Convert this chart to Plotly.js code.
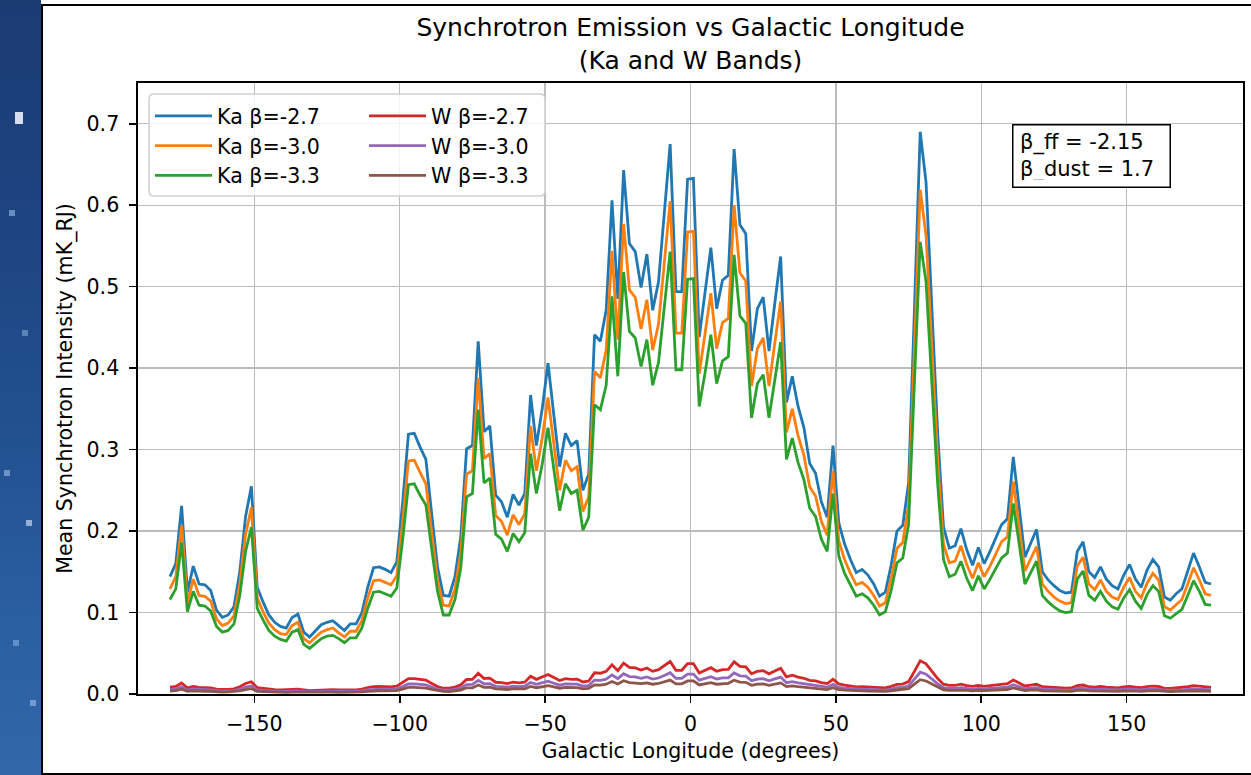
<!DOCTYPE html>
<html>
<head>
<meta charset="utf-8">
<script src="https://cdn.plot.ly/plotly-3.0.1.min.js"></script>
<style>
html,body{margin:0;padding:0;background:#fff;width:1251px;height:775px;overflow:hidden;}
#strip{position:absolute;left:0;top:0;width:41px;height:775px;
  background:linear-gradient(180deg,#1b3b73 0%,#1e4482 30%,#22508f 55%,#2a5fa2 80%,#3168ab 100%);}
.spot{position:absolute;width:6px;height:6px;background:rgba(170,200,240,0.55);}
#frame{position:absolute;left:41px;top:4px;width:1220px;height:767px;border:2px solid #000;background:#fff;}
#chart{position:absolute;left:0;top:0;width:1251px;height:775px;}
</style>
</head>
<body>
<div id="strip">
  <div class="spot" style="left:15px;top:112px;width:8px;height:12px;background:rgba(235,240,250,0.9)"></div>
  <div class="spot" style="left:9px;top:210px"></div>
  <div class="spot" style="left:22px;top:330px;background:rgba(150,185,230,0.5)"></div>
  <div class="spot" style="left:4px;top:470px"></div>
  <div class="spot" style="left:26px;top:520px;background:rgba(200,215,240,0.7)"></div>
  <div class="spot" style="left:13px;top:640px;background:rgba(150,190,235,0.5)"></div>
  <div class="spot" style="left:30px;top:700px"></div>
</div>
<div id="frame"></div>
<div id="chart"></div>
<script>
// Galactic longitude (deg), bin centres
const longitude = [-179,-177,-175,-173,-171,-169,-167,-165,-163,-161,
-159,-157,-155,-153,-151,-149,-147,-145,-143,-141,
-139,-137,-135,-133,-131,-129,-127,-125,-123,-121,
-119,-117,-115,-113,-111,-109,-107,-105,-103,-101,
-99,-97,-95,-93,-91,-89,-87,-85,-83,-81,
-79,-77,-75,-73,-71,-69,-67,-65,-63,-61,
-59,-57,-55,-53,-51,-49,-47,-45,-43,-41,
-39,-37,-35,-33,-31,-29,-27,-25,-23,-21,
-19,-17,-15,-13,-11,-9,-7,-5,-3,-1,
1,3,5,7,9,11,13,15,17,19,
21,23,25,27,29,31,33,35,37,39,
41,43,45,47,49,51,53,55,57,59,
61,63,65,67,69,71,73,75,77,79,
81,83,85,87,89,91,93,95,97,99,
101,103,105,107,109,111,113,115,117,119,
121,123,125,127,129,131,133,135,137,139,
141,143,145,147,149,151,153,155,157,159,
161,163,165,167,169,171,173,175,177,179];

const kaBeta27 = [0.144,0.160,0.231,0.125,0.157,0.135,0.134,0.127,0.103,0.094,
0.097,0.107,0.150,0.218,0.255,0.131,0.113,0.097,0.088,0.083,
0.081,0.094,0.098,0.076,0.070,0.077,0.085,0.088,0.090,0.084,
0.078,0.086,0.086,0.100,0.131,0.155,0.156,0.153,0.149,0.162,
0.235,0.319,0.320,0.303,0.288,0.221,0.156,0.121,0.120,0.144,
0.193,0.301,0.305,0.433,0.322,0.329,0.244,0.236,0.217,0.245,
0.232,0.246,0.367,0.305,0.350,0.406,0.342,0.279,0.320,0.305,
0.311,0.250,0.270,0.441,0.433,0.471,0.606,0.485,0.643,0.553,
0.543,0.499,0.540,0.471,0.506,0.590,0.675,0.494,0.494,0.632,
0.633,0.438,0.490,0.548,0.473,0.508,0.514,0.669,0.576,0.565,
0.421,0.473,0.487,0.421,0.480,0.537,0.358,0.390,0.353,0.327,
0.283,0.271,0.236,0.217,0.305,0.210,0.184,0.165,0.149,0.153,
0.146,0.135,0.120,0.125,0.158,0.200,0.207,0.259,0.471,0.690,
0.628,0.476,0.320,0.205,0.179,0.182,0.203,0.177,0.158,0.180,
0.160,0.175,0.191,0.208,0.215,0.291,0.230,0.168,0.185,0.202,
0.150,0.140,0.133,0.127,0.124,0.125,0.175,0.187,0.150,0.143,
0.156,0.141,0.133,0.129,0.146,0.159,0.141,0.131,0.152,0.165,
0.156,0.119,0.115,0.123,0.129,0.150,0.173,0.156,0.137,0.135];

const kaBeta30 = [0.129,0.144,0.207,0.112,0.141,0.121,0.120,0.114,0.092,0.084,
0.087,0.096,0.135,0.196,0.229,0.118,0.101,0.087,0.079,0.074,
0.073,0.084,0.088,0.068,0.063,0.069,0.076,0.079,0.081,0.075,
0.070,0.077,0.077,0.090,0.118,0.139,0.140,0.137,0.134,0.145,
0.211,0.286,0.287,0.272,0.258,0.198,0.140,0.109,0.108,0.129,
0.173,0.270,0.274,0.388,0.289,0.295,0.219,0.212,0.195,0.220,
0.208,0.221,0.329,0.274,0.314,0.364,0.307,0.250,0.287,0.274,
0.279,0.224,0.242,0.396,0.388,0.422,0.544,0.435,0.577,0.496,
0.487,0.448,0.484,0.422,0.454,0.529,0.605,0.443,0.443,0.567,
0.568,0.393,0.440,0.492,0.424,0.456,0.461,0.600,0.517,0.507,
0.378,0.424,0.437,0.378,0.431,0.482,0.321,0.350,0.317,0.293,
0.254,0.243,0.212,0.195,0.274,0.188,0.165,0.148,0.134,0.137,
0.131,0.121,0.108,0.112,0.142,0.179,0.186,0.232,0.422,0.619,
0.563,0.427,0.287,0.184,0.161,0.163,0.182,0.159,0.142,0.161,
0.144,0.157,0.171,0.187,0.193,0.261,0.206,0.151,0.166,0.181,
0.135,0.126,0.119,0.114,0.111,0.112,0.157,0.168,0.135,0.128,
0.140,0.126,0.119,0.116,0.131,0.143,0.126,0.118,0.136,0.148,
0.140,0.107,0.103,0.110,0.116,0.135,0.155,0.140,0.123,0.121];

const kaBeta33 = [0.116,0.129,0.186,0.101,0.126,0.109,0.108,0.102,0.083,0.076,
0.078,0.086,0.121,0.175,0.205,0.105,0.091,0.078,0.071,0.067,
0.065,0.076,0.079,0.061,0.056,0.062,0.068,0.071,0.072,0.068,
0.063,0.069,0.069,0.081,0.105,0.125,0.126,0.123,0.120,0.130,
0.189,0.257,0.258,0.244,0.232,0.178,0.126,0.097,0.097,0.116,
0.155,0.242,0.246,0.349,0.259,0.265,0.196,0.190,0.175,0.197,
0.187,0.198,0.295,0.246,0.282,0.327,0.275,0.225,0.258,0.246,
0.250,0.201,0.217,0.355,0.349,0.379,0.488,0.390,0.518,0.445,
0.437,0.402,0.435,0.379,0.407,0.475,0.543,0.398,0.398,0.509,
0.510,0.353,0.394,0.441,0.381,0.409,0.414,0.539,0.464,0.455,
0.339,0.381,0.392,0.339,0.386,0.432,0.288,0.314,0.284,0.263,
0.228,0.218,0.190,0.175,0.246,0.169,0.148,0.133,0.120,0.123,
0.118,0.109,0.097,0.101,0.127,0.161,0.167,0.208,0.379,0.555,
0.506,0.383,0.258,0.165,0.144,0.147,0.163,0.142,0.127,0.145,
0.129,0.141,0.154,0.167,0.173,0.234,0.185,0.135,0.149,0.163,
0.121,0.113,0.107,0.102,0.100,0.101,0.141,0.151,0.121,0.115,
0.126,0.114,0.107,0.104,0.118,0.128,0.114,0.105,0.122,0.133,
0.126,0.096,0.093,0.099,0.104,0.121,0.139,0.126,0.110,0.109];

const wBeta27 = [0.0085,0.0094,0.0136,0.0074,0.0093,0.0080,0.0079,0.0075,0.0061,0.0055,
0.0057,0.0063,0.0089,0.0129,0.0150,0.0077,0.0067,0.0057,0.0052,0.0049,
0.0048,0.0055,0.0058,0.0045,0.0041,0.0045,0.0050,0.0052,0.0053,0.0050,
0.0046,0.0051,0.0051,0.0059,0.0077,0.0091,0.0092,0.0090,0.0088,0.0096,
0.0139,0.0188,0.0189,0.0179,0.0170,0.0130,0.0092,0.0071,0.0071,0.0085,
0.0114,0.0178,0.0180,0.0255,0.0190,0.0194,0.0144,0.0139,0.0128,0.0145,
0.0137,0.0145,0.0217,0.0180,0.0207,0.0240,0.0202,0.0165,0.0189,0.0180,
0.0183,0.0148,0.0159,0.0260,0.0255,0.0278,0.0358,0.0286,0.0379,0.0326,
0.0320,0.0294,0.0319,0.0278,0.0299,0.0348,0.0398,0.0291,0.0291,0.0373,
0.0373,0.0258,0.0289,0.0323,0.0279,0.0300,0.0303,0.0395,0.0340,0.0333,
0.0248,0.0279,0.0287,0.0248,0.0283,0.0317,0.0211,0.0230,0.0208,0.0193,
0.0167,0.0160,0.0139,0.0128,0.0180,0.0124,0.0109,0.0097,0.0088,0.0090,
0.0086,0.0080,0.0071,0.0074,0.0093,0.0118,0.0122,0.0153,0.0278,0.0407,
0.0371,0.0281,0.0189,0.0121,0.0106,0.0107,0.0120,0.0104,0.0093,0.0106,
0.0094,0.0103,0.0113,0.0123,0.0127,0.0172,0.0136,0.0099,0.0109,0.0119,
0.0089,0.0083,0.0078,0.0075,0.0073,0.0074,0.0103,0.0110,0.0089,0.0084,
0.0092,0.0083,0.0078,0.0076,0.0086,0.0094,0.0083,0.0077,0.0090,0.0097,
0.0092,0.0070,0.0068,0.0073,0.0076,0.0089,0.0102,0.0092,0.0081,0.0080];

const wBeta30 = [0.0056,0.0062,0.0089,0.0048,0.0061,0.0052,0.0052,0.0049,0.0040,0.0036,
0.0038,0.0041,0.0058,0.0084,0.0099,0.0051,0.0044,0.0038,0.0034,0.0032,
0.0031,0.0036,0.0038,0.0029,0.0027,0.0030,0.0033,0.0034,0.0035,0.0033,
0.0030,0.0033,0.0033,0.0039,0.0051,0.0060,0.0060,0.0059,0.0058,0.0063,
0.0091,0.0123,0.0124,0.0117,0.0111,0.0086,0.0060,0.0047,0.0046,0.0056,
0.0075,0.0116,0.0118,0.0168,0.0125,0.0127,0.0094,0.0091,0.0084,0.0095,
0.0090,0.0095,0.0142,0.0118,0.0135,0.0157,0.0132,0.0108,0.0124,0.0118,
0.0120,0.0097,0.0104,0.0171,0.0168,0.0182,0.0235,0.0188,0.0249,0.0214,
0.0210,0.0193,0.0209,0.0182,0.0196,0.0228,0.0261,0.0191,0.0191,0.0245,
0.0245,0.0170,0.0190,0.0212,0.0183,0.0197,0.0199,0.0259,0.0223,0.0219,
0.0163,0.0183,0.0188,0.0163,0.0186,0.0208,0.0139,0.0151,0.0137,0.0127,
0.0110,0.0105,0.0091,0.0084,0.0118,0.0081,0.0071,0.0064,0.0058,0.0059,
0.0057,0.0052,0.0046,0.0048,0.0061,0.0077,0.0080,0.0100,0.0182,0.0267,
0.0243,0.0184,0.0124,0.0079,0.0069,0.0070,0.0079,0.0068,0.0061,0.0070,
0.0062,0.0068,0.0074,0.0080,0.0083,0.0113,0.0089,0.0065,0.0072,0.0078,
0.0058,0.0054,0.0051,0.0049,0.0048,0.0048,0.0068,0.0072,0.0058,0.0055,
0.0060,0.0055,0.0051,0.0050,0.0057,0.0062,0.0055,0.0051,0.0059,0.0064,
0.0060,0.0046,0.0045,0.0048,0.0050,0.0058,0.0067,0.0060,0.0053,0.0052];

const wBeta33 = [0.0037,0.0041,0.0059,0.0032,0.0040,0.0034,0.0034,0.0032,0.0026,0.0024,
0.0025,0.0027,0.0038,0.0055,0.0065,0.0033,0.0029,0.0025,0.0022,0.0021,
0.0021,0.0024,0.0025,0.0019,0.0018,0.0020,0.0022,0.0022,0.0023,0.0021,
0.0020,0.0022,0.0022,0.0025,0.0033,0.0039,0.0040,0.0039,0.0038,0.0041,
0.0060,0.0081,0.0081,0.0077,0.0073,0.0056,0.0040,0.0031,0.0030,0.0037,
0.0049,0.0076,0.0077,0.0110,0.0082,0.0084,0.0062,0.0060,0.0055,0.0062,
0.0059,0.0062,0.0093,0.0077,0.0089,0.0103,0.0087,0.0071,0.0081,0.0077,
0.0079,0.0064,0.0069,0.0112,0.0110,0.0120,0.0154,0.0123,0.0163,0.0140,
0.0138,0.0127,0.0137,0.0120,0.0129,0.0150,0.0171,0.0125,0.0125,0.0161,
0.0161,0.0111,0.0124,0.0139,0.0120,0.0129,0.0131,0.0170,0.0146,0.0144,
0.0107,0.0120,0.0124,0.0107,0.0122,0.0136,0.0091,0.0099,0.0090,0.0083,
0.0072,0.0069,0.0060,0.0055,0.0077,0.0053,0.0047,0.0042,0.0038,0.0039,
0.0037,0.0034,0.0030,0.0032,0.0040,0.0051,0.0053,0.0066,0.0120,0.0175,
0.0160,0.0121,0.0081,0.0052,0.0045,0.0046,0.0052,0.0045,0.0040,0.0046,
0.0041,0.0044,0.0049,0.0053,0.0055,0.0074,0.0058,0.0043,0.0047,0.0051,
0.0038,0.0036,0.0034,0.0032,0.0031,0.0032,0.0044,0.0047,0.0038,0.0036,
0.0040,0.0036,0.0034,0.0033,0.0037,0.0040,0.0036,0.0033,0.0039,0.0042,
0.0040,0.0030,0.0029,0.0031,0.0033,0.0038,0.0044,0.0040,0.0035,0.0034];

const seriesNames = ['Ka β=-2.7','Ka β=-3.0','Ka β=-3.3','W β=-2.7','W β=-3.0','W β=-3.3'];
const seriesColors = ['#1f77b4','#ff7f0e','#2ca02c','#d62728','#9467bd','#8c564b'];
const seriesValues = [kaBeta27, kaBeta30, kaBeta33, wBeta27, wBeta30, wBeta33];
const xTicks = [-150,-100,-50,0,50,100,150];
const yTicks = [0,0.1,0.2,0.3,0.4,0.5,0.6,0.7];

// plot-area geometry (pixels) for paper conversions
const W = 1251, H = 775, ML = 138, MR = 8, MT = 83, MB = 81;
const PW = W - ML - MR, PH = H - MT - MB;
const px = x => (x - ML) / PW;
const py = y => (H - MB - y) / PH;

const traces = seriesValues.map((vals, i) => ({
  type: 'scatter', mode: 'lines',
  x: longitude, y: vals,
  name: seriesNames[i],
  line: {color: seriesColors[i], width: 2.8},
  legend: i < 3 ? 'legend' : 'legend2',
  hoverinfo: 'skip'
}));

// rounded legend frame
function roundRect(x0, y0, x1, y1, r) {
  const X0 = px(x0), X1 = px(x1), Y0 = py(y1), Y1 = py(y0);
  const rx = r / PW, ry = r / PH;
  return `M${X0+rx},${Y1} L${X1-rx},${Y1} Q${X1},${Y1} ${X1},${Y1-ry} L${X1},${Y0+ry} Q${X1},${Y0} ${X1-rx},${Y0} ` +
         `L${X0+rx},${Y0} Q${X0},${Y0} ${X0},${Y0+ry} L${X0},${Y1-ry} Q${X0},${Y1} ${X0+rx},${Y1} Z`;
}

const axisCommon = {
  showgrid: true, gridcolor: '#bcbcbc', gridwidth: 1.4,
  zeroline: false, showline: true, mirror: true,
  linecolor: '#000', linewidth: 1.6,
  ticks: 'outside', ticklen: 7, tickwidth: 1.6, tickcolor: '#000',
  tickfont: {size: 20.6, color: '#000'},
  automargin: false, fixedrange: true
};

const layout = {
  width: W, height: H,
  margin: {l: ML, r: MR, t: MT, b: MB, pad: 0},
  paper_bgcolor: 'rgba(0,0,0,0)', plot_bgcolor: '#fff',
  font: {family: 'DejaVu Sans', color: '#000', size: 20.6},
  title: {
    text: 'Synchrotron Emission vs Galactic Longitude<br>(Ka and W Bands)',
    font: {size: 25, color: '#000'},
    x: 0.5, xref: 'paper', xanchor: 'center',
    y: 1 - 36 / H, yref: 'container', yanchor: 'top'
  },
  xaxis: Object.assign({}, axisCommon, {
    range: [-190, 190], tickvals: xTicks,
    ticklabelstandoff: 4,
    title: {text: 'Galactic Longitude (degrees)', font: {size: 20.6}, standoff: 8}
  }),
  yaxis: Object.assign({}, axisCommon, {
    range: [0, 0.75], tickvals: yTicks, tickformat: '.1f',
    ticklabelstandoff: 6,
    title: {text: 'Mean Synchrotron Intensity (mK_RJ)', font: {size: 20.6}, standoff: 8}
  }),
  showlegend: true,
  legend: {
    x: px(150), y: py(96), xanchor: 'left', yanchor: 'top',
    bgcolor: 'rgba(0,0,0,0)', borderwidth: 0,
    font: {size: 20.6, color: '#000'}, itemwidth: 57, tracegroupgap: 0
  },
  legend2: {
    x: px(364), y: py(96), xanchor: 'left', yanchor: 'top',
    bgcolor: 'rgba(0,0,0,0)', borderwidth: 0,
    font: {size: 20.6, color: '#000'}, itemwidth: 57, tracegroupgap: 0
  },
  shapes: [{
    type: 'path', xref: 'paper', yref: 'paper', layer: 'above',
    path: roundRect(149, 94, 545, 196, 5),
    fillcolor: 'rgba(255,255,255,0.8)',
    line: {color: '#d0d0d0', width: 1.5}
  }],
  annotations: [{
    text: 'β_ff = -2.15<br>β_dust = 1.7',
    xref: 'paper', yref: 'paper',
    x: px(1012), y: py(124), xanchor: 'left', yanchor: 'top',
    align: 'left', showarrow: false,
    width: 143, height: 48,
    font: {size: 21, color: '#000'},
    bgcolor: '#fff', bordercolor: '#000', borderwidth: 1.5, borderpad: 6.5
  }]
};

Plotly.newPlot('chart', traces, layout, {staticPlot: true, displayModeBar: false});
</script>
</body>
</html>
